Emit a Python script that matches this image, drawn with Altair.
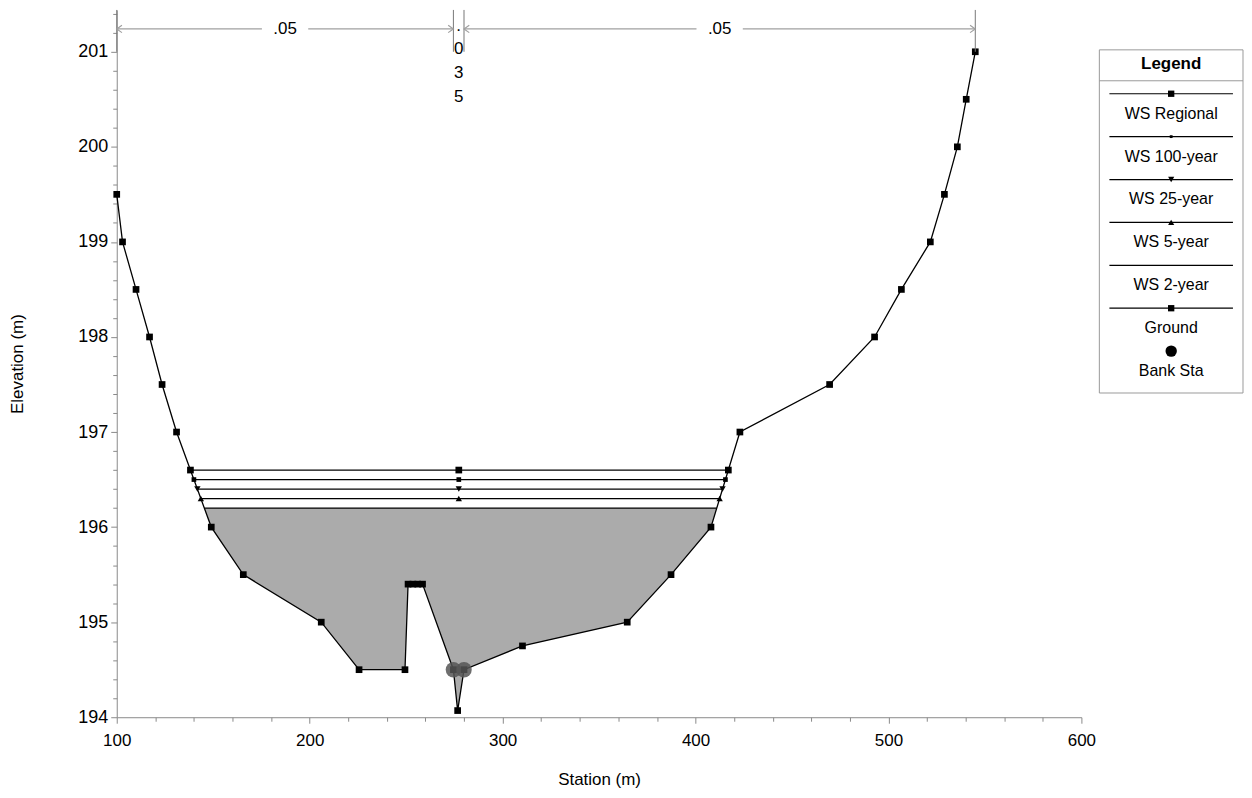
import altair as alt
import pandas as pd

# ---------------- data ----------------
ground_station = [100.0, 103.0, 110.0, 117.0, 123.5, 131.0, 149.0, 165.6, 206.0, 225.6,
                  249.4, 251.0, 253.5, 256.0, 258.5, 274.5, 276.7, 280.0, 310.3, 364.6,
                  387.3, 408.0, 423.0, 469.5, 492.8, 506.7, 521.7, 529.0, 535.7, 540.3, 545.0]
ground_elev = [199.5, 199.0, 198.5, 198.0, 197.5, 197.0, 196.0, 195.5, 195.0, 194.5,
               194.5, 195.4, 195.4, 195.4, 195.4, 194.5, 194.07, 194.5, 194.75, 195.0,
               195.5, 196.0, 197.0, 197.5, 198.0, 198.5, 199.0, 199.5, 200.0, 200.5, 201.0]

bank_station = [274.5, 280.0]
bank_elev = [194.5, 194.5]

ws_names = ["WS Regional", "WS 100-year", "WS 25-year", "WS 5-year", "WS 2-year"]
ws_elev = [196.6, 196.5, 196.4, 196.3, 196.2]
ws_left = [138.2, 140.0, 141.8, 143.6, 145.4]
ws_right = [417.0, 415.5, 414.0, 412.5, 411.0]
ws_mid = 277.3

n_labels = [".05", ".035", ".05"]
n_bounds = [100.0, 274.5, 280.0, 545.0]

x_ticks = [100, 200, 300, 400, 500, 600]
y_ticks = [194, 195, 196, 197, 198, 199, 200, 201]

legend_labels = ["WS Regional", "WS 100-year", "WS 25-year", "WS 5-year",
                 "WS 2-year", "Ground", "Bank Sta"]

# ---------------- styling ----------------
FONT = "Liberation Sans"
W, H = 967, 709
Y_TOP = 201.44
AXIS_GRAY = "#8a8a8a"
ANNOT_GRAY = "#a0a0a0"
FILL_GRAY = "#ababab"

xs = alt.Scale(domain=[100, 600], nice=False, zero=False)
ys = alt.Scale(domain=[194, Y_TOP], nice=False, zero=False)


def X(field="s", axis=None):
    return alt.X(f"{field}:Q", scale=xs, axis=axis)


def Y(field="e", axis=None):
    return alt.Y(f"{field}:Q", scale=ys, axis=axis)


x_axis = alt.Axis(values=x_ticks, orient="bottom", title="Station (m)", grid=False,
                  domainColor=AXIS_GRAY, tickColor=AXIS_GRAY, tickSize=6,
                  labelFont=FONT, titleFont=FONT, labelFontSize=17, titleFontSize=17,
                  labelColor="black", titleColor="black", titleFontWeight="normal",
                  labelPadding=9, titlePadding=23, format="d", labelFlush=False)
y_axis = alt.Axis(values=y_ticks, orient="left", title="Elevation (m)", grid=False,
                  domainColor=AXIS_GRAY, tickColor=AXIS_GRAY, tickSize=6,
                  labelFont=FONT, titleFont=FONT, labelFontSize=18, titleFontSize=17,
                  labelColor="black", titleColor="black", titleFontWeight="normal",
                  labelPadding=3, titlePadding=51, format="d", labelFlush=False)

minor_x = [v for v in range(120, 600, 20) if v % 100 != 0]
minor_y = [round(194 + 0.2 * k, 1) for k in range(1, 38) if k % 5 != 0]
minor_x_axis = alt.Axis(values=minor_x, orient="bottom", labels=False, domain=False,
                        title=None, grid=False, tickColor=AXIS_GRAY, tickSize=4)
minor_y_axis = alt.Axis(values=minor_y, orient="left", labels=False, domain=False,
                        title=None, grid=False, tickColor=AXIS_GRAY, tickSize=4)

# ---------------- tables ----------------
ground_df = pd.DataFrame({"s": ground_station, "e": ground_elev,
                          "o": range(len(ground_station))})

top_ws = ws_elev[-1]
inside = [(s, e) for s, e in zip(ground_station, ground_elev)
          if ws_left[-1] < s < ws_right[-1]]
area_pts = [(ws_left[-1], top_ws)] + inside + [(ws_right[-1], top_ws)]
area_df = pd.DataFrame({"s": [p[0] for p in area_pts], "e": [p[1] for p in area_pts],
                        "e2": top_ws})

ws_df = pd.DataFrame({"name": ws_names, "e": ws_elev, "s": ws_left, "s2": ws_right})
ws_marker_style = {"WS Regional": ("square", 45), "WS 100-year": ("square", 22),
                   "WS 25-year": ("triangle-down", 40), "WS 5-year": ("triangle-up", 40)}

bank_df = pd.DataFrame({"s": bank_station, "e": bank_elev})

# Manning's n annotations
ARROW_E = 201.24
VTEXT_E = 201.273
GAP = 12.0
seg_rows, arr_l, arr_r, n_text, n_vert, vtext_rows = [], [], [], [], [], []
for i, lab in enumerate(n_labels):
    a, b = n_bounds[i], n_bounds[i + 1]
    mid = (a + b) / 2
    if b - a > 40:
        seg_rows.append({"s": a, "s2": mid - GAP, "e": ARROW_E})
        seg_rows.append({"s": mid + GAP, "s2": b, "e": ARROW_E})
        arr_l.append({"s": a, "e": ARROW_E})
        arr_r.append({"s": b, "e": ARROW_E})
        n_text.append({"s": mid, "e": ARROW_E, "t": lab})
    else:
        vtext_rows.append({"s": mid, "e": VTEXT_E, "t": "\n".join(list(lab))})
for b in n_bounds:
    n_vert.append({"s": b, "e": 201.0, "e2": Y_TOP})

seg_df = pd.DataFrame(seg_rows)
arr_l_df = pd.DataFrame(arr_l)
arr_r_df = pd.DataFrame(arr_r)
ntext_df = pd.DataFrame(n_text)
nvert_df = pd.DataFrame(n_vert)
vtext_df = pd.DataFrame(vtext_rows)

# ---------------- main chart layers ----------------
area = alt.Chart(area_df).mark_area(color=FILL_GRAY, opacity=1).encode(
    x=X(axis=x_axis), y=Y(axis=y_axis), y2="e2:Q")

minor = alt.Chart(area_df.head(1)).mark_point(opacity=0).encode(
    x=X(axis=minor_x_axis), y=Y(axis=minor_y_axis))

ws_lines = alt.Chart(ws_df).mark_rule(color="black", strokeWidth=1.2).encode(
    x=X(), x2="s2:Q", y=Y())

ws_mark_layers = []
for n, e, l, r in zip(ws_names, ws_elev, ws_left, ws_right):
    if n in ws_marker_style:
        shp, sz = ws_marker_style[n]
        dfm = pd.DataFrame({"s": [l, ws_mid, r], "e": [e, e, e]})
        ws_mark_layers.append(
            alt.Chart(dfm).mark_point(shape=shp, size=sz, filled=True, color="black",
                                      opacity=1).encode(x=X(), y=Y()))

ground_line = alt.Chart(ground_df).mark_line(color="black", strokeWidth=1.3).encode(
    x=X(), y=Y(), order="o:Q")
ground_pts = alt.Chart(ground_df).mark_point(
    shape="square", filled=True, color="black", size=45, opacity=1).encode(x=X(), y=Y())

bank = alt.Chart(bank_df).mark_point(
    shape="circle", filled=True, color="#555555", size=240, opacity=0.85).encode(
    x=X(), y=Y())

n_segs = alt.Chart(seg_df).mark_rule(color=ANNOT_GRAY, strokeWidth=1.2).encode(
    x=X(), x2="s2:Q", y=Y())
n_verts = alt.Chart(nvert_df).mark_rule(color="#777777", strokeWidth=1).encode(
    x=X(), y=Y(), y2="e2:Q")
n_arr_l = alt.Chart(arr_l_df).mark_point(
    shape="M 1 -0.7 L 0 0 L 1 0.7", filled=False, color=ANNOT_GRAY, size=110,
    strokeWidth=1.2, opacity=1).encode(x=X(), y=Y())
n_arr_r = alt.Chart(arr_r_df).mark_point(
    shape="M -1 -0.7 L 0 0 L -1 0.7", filled=False, color=ANNOT_GRAY, size=110,
    strokeWidth=1.2, opacity=1).encode(x=X(), y=Y())
n_txt = alt.Chart(ntext_df).mark_text(
    font=FONT, fontSize=17, color="black", baseline="middle", align="center").encode(
    x=X(), y=Y(), text="t:N")
n_vtxt = alt.Chart(vtext_df).mark_text(
    font=FONT, fontSize=17, color="black", baseline="middle", align="center",
    lineBreak="\n", lineHeight=23.7).encode(x=X(), y=Y(), text="t:N")

main = alt.layer(
    area, minor, ws_lines, ground_line, ground_pts, *ws_mark_layers, bank,
    n_segs, n_verts, n_arr_l, n_arr_r, n_txt, n_vtxt
).resolve_axis(x="independent", y="independent").properties(width=W, height=H)

# ---------------- legend panel ----------------
UNIT = 43.0
LH = H / UNIT
lx = alt.Scale(domain=[0, 1], nice=False, zero=False)
ly = alt.Scale(domain=[0, LH], nice=False, zero=False, reverse=True)

box_top, box_bot = 40 / UNIT, 384 / UNIT
title_y, div_y = 54 / UNIT, 71 / UNIT
line0, label0 = 84 / UNIT, 104 / UNIT

leg_style = {"WS Regional": ("square", 40), "WS 100-year": ("square", 8),
             "WS 25-year": ("triangle-down", 38), "WS 5-year": ("triangle-up", 38),
             "Ground": ("square", 40), "Bank Sta": ("circle", 130)}
leg_has_line = [True, True, True, True, True, True, False]


def LX(f="x"):
    return alt.X(f"{f}:Q", scale=lx, axis=None)


def LY(f="y"):
    return alt.Y(f"{f}:Q", scale=ly, axis=None)


rows_line, rows_lab, leg_mark_layers = [], [], []
for i, lab in enumerate(legend_labels):
    yl = line0 + i
    if leg_has_line[i]:
        rows_line.append({"x": 0.07, "x2": 0.93, "y": yl})
    if lab in leg_style:
        shp, sz = leg_style[lab]
        leg_mark_layers.append(
            alt.Chart(pd.DataFrame({"x": [0.5], "y": [yl]})).mark_point(
                shape=shp, size=sz, filled=True, color="black", opacity=1).encode(
                x=LX(), y=LY()))
    rows_lab.append({"x": 0.5, "y": label0 + i, "t": lab})

box = alt.Chart(pd.DataFrame({"x": [0.0], "x2": [1.0], "y": [box_top], "y2": [box_bot]})
                ).mark_rect(fill="white", stroke="#9a9a9a", strokeWidth=1).encode(
    x=LX(), x2="x2:Q", y=LY(), y2="y2:Q")
divider = alt.Chart(pd.DataFrame({"x": [0.0], "x2": [1.0], "y": [div_y]})).mark_rule(
    color="#9a9a9a", strokeWidth=1).encode(x=LX(), x2="x2:Q", y=LY())
ltitle = alt.Chart(pd.DataFrame({"x": [0.5], "y": [title_y], "t": ["Legend"]})).mark_text(
    font=FONT, fontSize=17, fontWeight="bold", color="black", baseline="middle",
    align="center").encode(x=LX(), y=LY(), text="t:N")
llines = alt.Chart(pd.DataFrame(rows_line)).mark_rule(color="black", strokeWidth=1.2).encode(
    x=LX(), x2="x2:Q", y=LY())
llabels = alt.Chart(pd.DataFrame(rows_lab)).mark_text(
    font=FONT, fontSize=16, color="black", baseline="middle", align="center").encode(
    x=LX(), y=LY(), text="t:N")

legend = alt.layer(box, divider, ltitle, llines, *leg_mark_layers, llabels).properties(
    width=144, height=H)

chart = alt.hconcat(main, legend, spacing=2).properties(
    padding={"left": 0, "top": 0, "right": 0, "bottom": 0}
).configure(font=FONT, view=alt.ViewConfig(stroke=None))

chart.save("out.html", embed_options={"renderer": "svg", "actions": False})
